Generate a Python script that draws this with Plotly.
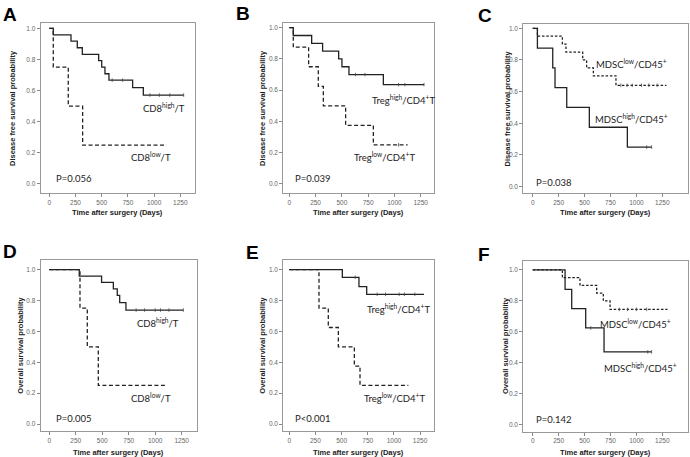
import plotly.graph_objects as go

# ---------------- data ----------------
# Panel A: Disease free survival, CD8/T
A_high_t = [0, 38, 207, 267, 315, 471, 500, 531, 569, 795, 897, 1282]
A_high_s = [1.0, 0.958, 0.917, 0.875, 0.833, 0.792, 0.75, 0.708, 0.667, 0.619, 0.571, 0.571]
A_high_c = [600, 700, 960, 1050, 1150, 1282]
A_low_t = [0, 38, 181, 318, 1120]
A_low_s = [1.0, 0.75, 0.5, 0.25, 0.25]
A_low_c = []

# Panel B: Disease free survival, Treg/CD4+T
B_high_t = [0, 38, 213, 317, 470, 501, 568, 895, 1282]
B_high_s = [1.0, 0.95, 0.90, 0.85, 0.80, 0.75, 0.70, 0.636, 0.636]
B_high_c = [630, 720, 1040, 1100, 1282]
B_low_t = [0, 38, 184, 276, 324, 536, 800, 1126]
B_low_s = [1.0, 0.875, 0.75, 0.625, 0.5, 0.375, 0.25, 0.25]
B_low_c = [1040]

# Panel C: Disease free survival, MDSC/CD45+
C_low_t = [0, 45, 286, 321, 482, 520, 585, 803, 1290]
C_low_s = [1.0, 0.95, 0.90, 0.85, 0.80, 0.75, 0.70, 0.64, 0.64]
C_low_c = [850, 910, 960, 1050, 1120, 1200]
C_high_t = [0, 45, 193, 215, 328, 546, 913, 1147]
C_high_s = [1.0, 0.875, 0.75, 0.625, 0.5, 0.375, 0.25, 0.25]
C_high_c = [1100, 1147]

# Panel D: Overall survival, CD8/T
D_high_t = [0, 283, 494, 605, 642, 665, 724, 1266]
D_high_s = [1.0, 0.958, 0.917, 0.875, 0.833, 0.786, 0.738, 0.738]
D_high_c = [820, 900, 1000, 1050, 1130, 1266]
D_low_t = [0, 290, 359, 463, 1108]
D_low_s = [1.0, 0.75, 0.5, 0.25, 0.25]
D_low_c = []

# Panel E: Overall survival, Treg/CD4+T
E_high_t = [0, 507, 666, 740, 1288]
E_high_s = [1.0, 0.95, 0.89, 0.84, 0.84]
E_high_c = [630, 840, 920, 1050, 1100, 1200]
E_low_t = [0, 284, 373, 469, 622, 676, 1138]
E_low_s = [1.0, 0.75, 0.625, 0.5, 0.375, 0.25, 0.25]
E_low_c = []

# Panel F: Overall survival, MDSC/CD45+
F_low_t = [0, 286, 456, 617, 681, 746, 1300]
F_low_s = [1.0, 0.95, 0.90, 0.85, 0.80, 0.745, 0.745]
F_low_c = [835, 915, 1000, 1100]
F_high_t = [0, 312, 376, 511, 688, 1147]
F_high_s = [1.0, 0.875, 0.75, 0.625, 0.47, 0.47]
F_high_c = [560, 1110, 1147]

x_ticks = [0, 250, 500, 750, 1000, 1250]
y_ticks = [0.0, 0.2, 0.4, 0.6, 0.8, 1.0]
x_title = "Time after surgery (Days)"
y_title_dfs = "Disease free survival probability"
y_title_os = "Overall survival probability"
letters = ["A", "B", "C", "D", "E", "F"]
p_values = ["P=0.056", "P=0.039", "P=0.038", "P=0.005", "P<0.001", "P=0.142"]

# ---------------- layout geometry ----------------
W, H = 690, 457
panels = [
    dict(box=(40.7, 195, 23, 193), xr=(-82, 1390), yr=(-0.058, 1.034), yt=y_title_dfs, xt_y=212, yt_x=12),
    dict(box=(283.3, 434, 23.3, 192.7), xr=(-57, 1377), yr=(-0.056, 1.028), yt=y_title_dfs, xt_y=212, yt_x=262),
    dict(box=(523.3, 688, 24, 193), xr=(-91, 1498), yr=(-0.04, 1.027), yt=y_title_dfs, xt_y=212, yt_x=507),
    dict(box=(40.7, 197, 260.3, 431), xr=(-81, 1395), yr=(-0.045, 1.06), yt=y_title_os, xt_y=452, yt_x=21),
    dict(box=(283.3, 434, 260.3, 431), xr=(-57, 1383), yr=(-0.045, 1.06), yt=y_title_os, xt_y=452, yt_x=263),
    dict(box=(523.3, 688, 260.7, 431.5), xr=(-91, 1498), yr=(-0.045, 1.06), yt=y_title_os, xt_y=452, yt_x=505),
]
letter_pos = [(1, 2), (234, 1), (476, 3), (1, 239), (244, 240), (476, 242)]

dash_long = "4px,2.5px"
dash_short = "2.5px,1.8px"

curves = [
    (0, A_high_t, A_high_s, A_high_c, "solid"),
    (0, A_low_t, A_low_s, A_low_c, dash_long),
    (1, B_high_t, B_high_s, B_high_c, "solid"),
    (1, B_low_t, B_low_s, B_low_c, dash_long),
    (2, C_low_t, C_low_s, C_low_c, dash_short),
    (2, C_high_t, C_high_s, C_high_c, "solid"),
    (3, D_high_t, D_high_s, D_high_c, "solid"),
    (3, D_low_t, D_low_s, D_low_c, dash_long),
    (4, E_high_t, E_high_s, E_high_c, "solid"),
    (4, E_low_t, E_low_s, E_low_c, dash_long),
    (5, F_low_t, F_low_s, F_low_c, dash_short),
    (5, F_high_t, F_high_s, F_high_c, "solid"),
]

labels = [
    (0, "CD8<sup>high</sup>/T", 1090, 0.49),
    (0, "CD8<sup>low</sup>/T", 970, 0.175),
    (1, "Treg<sup>high</sup>/CD4<sup>+</sup>T", 1090, 0.54),
    (1, "Treg<sup>low</sup>/CD4<sup>+</sup>T", 905, 0.175),
    (2, "MDSC<sup>low</sup>/CD45<sup>+</sup>", 950, 0.78),
    (2, "MDSC<sup>high</sup>/CD45<sup>+</sup>", 950, 0.43),
    (3, "CD8<sup>high</sup>/T", 1025, 0.66),
    (3, "CD8<sup>low</sup>/T", 960, 0.17),
    (4, "Treg<sup>high</sup>/CD4<sup>+</sup>T", 1040, 0.75),
    (4, "Treg<sup>low</sup>/CD4<sup>+</sup>T", 1005, 0.174),
    (5, "MDSC<sup>low</sup>/CD45<sup>+</sup>", 995, 0.655),
    (5, "MDSC<sup>high</sup>/CD45<sup>+</sup>", 1040, 0.37),
]
p_pos = [(48, 0.034), (38, 0.034), (13, 0.025), (47, 0.036), (38, 0.036), (13, 0.03)]


def step_value(t, s, x):
    v = s[0]
    for ti, si in zip(t, s):
        if ti <= x:
            v = si
    return v


def ax_ref(i, letter):
    return letter if i == 0 else f"{letter}{i+1}"


fig = go.Figure()
layout = dict(
    width=W, height=H, margin=dict(l=0, r=0, t=0, b=0, autoexpand=False),
    paper_bgcolor="white", plot_bgcolor="white", showlegend=False,
)

axis_font = dict(family="Liberation Sans", size=6.5, color="#666")
title_font = dict(family="Liberation Sans", size=7.5, color="#222")
label_font = dict(family="Lato", size=9.5, color="#222")

annotations = []
for i, p in enumerate(panels):
    l, r, top, bot = p["box"]
    layout[ax_ref(i, "xaxis")] = dict(
        domain=[l / W, r / W], range=list(p["xr"]), anchor=ax_ref(i, "y"),
        tickvals=x_ticks, ticks="outside", ticklen=3, tickcolor="#888",
        showline=True, linecolor="#999", linewidth=1, mirror=True, automargin=False,
        showgrid=False, zeroline=False, tickfont=axis_font,
    )
    layout[ax_ref(i, "yaxis")] = dict(
        domain=[1 - bot / H, 1 - top / H], range=list(p["yr"]), anchor=ax_ref(i, "x"),
        tickvals=y_ticks, tickformat=".1f", ticks="outside", ticklen=3, tickcolor="#888",
        showline=True, linecolor="#999", linewidth=1, mirror=True, automargin=False,
        showgrid=False, zeroline=False, tickfont=axis_font,
    )
    annotations.append(dict(
        text=f"<b>{x_title}</b>", x=(l + r) / 2 / W, y=1 - p["xt_y"] / H,
        xref="paper", yref="paper", showarrow=False, xanchor="center", yanchor="middle",
        font=title_font,
    ))
    annotations.append(dict(
        text=f"<b>{p['yt']}</b>", x=p["yt_x"] / W, y=1 - (top + bot) / 2 / H,
        xref="paper", yref="paper", showarrow=False, xanchor="center", yanchor="middle",
        textangle=-90, font=title_font,
    ))

for (pi, t, s, c, dash) in curves:
    xr, yr = ax_ref(pi, "x"), ax_ref(pi, "y")
    fig.add_trace(go.Scatter(
        x=t, y=s, mode="lines", line=dict(shape="hv", color="#222", width=1.3, dash=dash),
        xaxis=xr, yaxis=yr, hoverinfo="skip",
    ))
    if c:
        fig.add_trace(go.Scatter(
            x=c, y=[step_value(t, s, v) for v in c], mode="markers",
            marker=dict(symbol="line-ns", size=2.5, line=dict(width=0.8, color="#444")),
            xaxis=xr, yaxis=yr, hoverinfo="skip",
        ))

for (pi, text, x, y) in labels:
    annotations.append(dict(
        text=text, x=x, y=y, xref=ax_ref(pi, "x"), yref=ax_ref(pi, "y"),
        showarrow=False, xanchor="center", yanchor="middle", font=label_font,
    ))
for pi, (txt, (x, y)) in enumerate(zip(p_values, p_pos)):
    annotations.append(dict(
        text=txt, x=x, y=y, xref=ax_ref(pi, "x"), yref=ax_ref(pi, "y"),
        showarrow=False, xanchor="left", yanchor="middle", font=label_font,
    ))
for letter, (px, py) in zip(letters, letter_pos):
    annotations.append(dict(
        text=f"<b>{letter}</b>", x=px / W, y=1 - py / H, xref="paper", yref="paper",
        showarrow=False, xanchor="left", yanchor="top",
        font=dict(family="Liberation Sans", size=19, color="#000"),
    ))

layout["annotations"] = annotations
fig.update_layout(**layout)
fig.write_html(
    "out.html",
    config={"displayModeBar": False},
    post_script="document.body.style.margin='0';document.body.style.overflow='hidden';",
)
